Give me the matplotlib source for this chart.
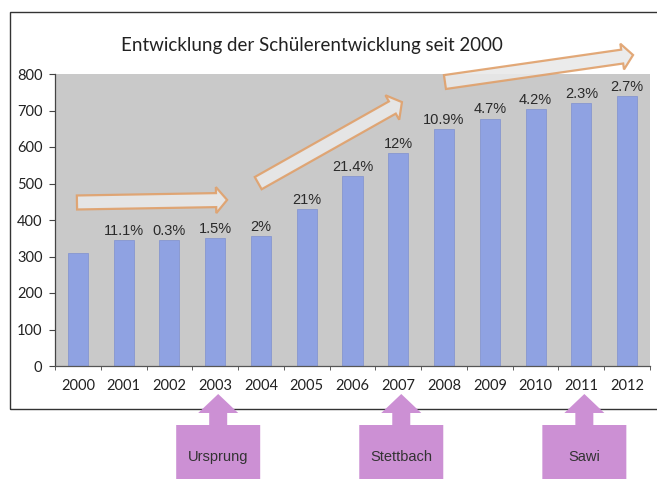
import numpy as np
import matplotlib
matplotlib.use("Agg")
import matplotlib.pyplot as plt
from matplotlib.patches import Polygon, Rectangle
from matplotlib.transforms import IdentityTransform

# data
years = ['2000', '2001', '2002', '2003', '2004', '2005', '2006',
         '2007', '2008', '2009', '2010', '2011', '2012']
pupils = [310, 344, 345, 350, 355, 430, 521, 584, 648, 678, 704, 721, 739]
growth = ['', '11.1%', '0.3%', '1.5%', '2%', '21%', '21.4%',
          '12%', '10.9%', '4.7%', '4.2%', '2.3%', '2.7%']
milestones = ['Ursprung', 'Stettbach', 'Sawi']
milestone_years = ['2003', '2007', '2011']

W, H = 657, 479
fig = plt.figure(figsize=(W / 100, H / 100), dpi=100)
fig.patch.set_facecolor('white')

# outer frame
fig.add_artist(Rectangle((10 / W, 1 - 409 / H), 660 / W, 397 / H,
                         transform=fig.transFigure, fill=False,
                         edgecolor='#333333', linewidth=1.0))

ax = fig.add_axes([55 / W, 1 - 366 / H, 595 / W, 292 / H])
ax.set_facecolor('#c9c9c9')
x = np.arange(len(years))
ax.bar(x, pupils, width=0.44, color='#8fa2e2', edgecolor='#8796d0', linewidth=0.6, zorder=2)
ax.set_xlim(-0.5, len(years) - 0.5)
ax.set_ylim(0, 800)
ax.set_yticks(range(0, 801, 100))
ax.set_xticks(x)
ax.set_xticklabels(years)
ax.set_xticks(np.arange(-0.5, len(years)), minor=True)
ax.tick_params(axis='x', which='major', length=0, pad=9)
ax.tick_params(axis='x', which='minor', length=3, color='#444444')
ax.tick_params(axis='y', length=4, color='#444444', pad=5)
for lab in ax.get_xticklabels() + ax.get_yticklabels():
    lab.set_fontfamily('Lato')
    lab.set_fontsize(10.5)
    lab.set_color('#222222')
for s in ['top', 'right']:
    ax.spines[s].set_visible(False)
ax.spines['left'].set_color('#444444')
ax.spines['bottom'].set_color('#555555')
ax.spines['left'].set_linewidth(0.9)
ax.spines['bottom'].set_linewidth(0.9)

for i, t in enumerate(growth):
    if t:
        ax.annotate(t, (x[i], pupils[i]), xytext=(0, 1.5), textcoords='offset points',
                    ha='center', va='bottom', fontsize=10.5, color='#2a2a2a',
                    family='Liberation Sans', zorder=5)

fig.text(312 / W, 1 - 45 / H, 'Entwicklung der Schülerentwicklung seit 2000',
         ha='center', va='center', fontsize=13.5, family='Lato', color='#222222')


def block_arrow(p0, p1, shaft=14, head_w=26, head_len=11):
    a = ax.transData.transform(p0)
    b = ax.transData.transform(p1)
    d = b - a
    L = np.hypot(*d)
    u = d / L
    n = np.array([-u[1], u[0]])
    neck = a + u * (L - head_len)
    pts = [a + n * shaft / 2, neck + n * shaft / 2, neck + n * head_w / 2, b,
           neck - n * head_w / 2, neck - n * shaft / 2, a - n * shaft / 2]
    ax.add_patch(Polygon(pts, closed=True, transform=IdentityTransform(),
                         facecolor='#e9e9e9', edgecolor='#e0a06a', alpha=0.9,
                         linewidth=1.6, clip_on=False, zorder=4))


block_arrow((-0.02, 448), (3.26, 455))
block_arrow((3.94, 501), (7.08, 723), head_w=28)
block_arrow((8.02, 778), (12.13, 852), head_w=26)

# purple callouts under the axis
for name, yr in zip(milestones, milestone_years):
    cx = ax.transData.transform((years.index(yr), 0))[0] + 3
    pts = [(cx, H - 394), (cx + 20, H - 413), (cx + 9, H - 413), (cx + 9, H - 425),
           (cx + 42, H - 425), (cx + 42, -5), (cx - 42, -5), (cx - 42, H - 425),
           (cx - 9, H - 425), (cx - 9, H - 413), (cx - 20, H - 413)]
    fig.add_artist(Polygon(pts, closed=True, transform=IdentityTransform(),
                           facecolor='#cc90d4', edgecolor='none', zorder=6))
    fig.text(cx / W, 22 / H, name, ha='center', va='center', fontsize=10.5,
             family='Liberation Sans', color='#333333', zorder=7)

fig.savefig('out.png', dpi=100)
